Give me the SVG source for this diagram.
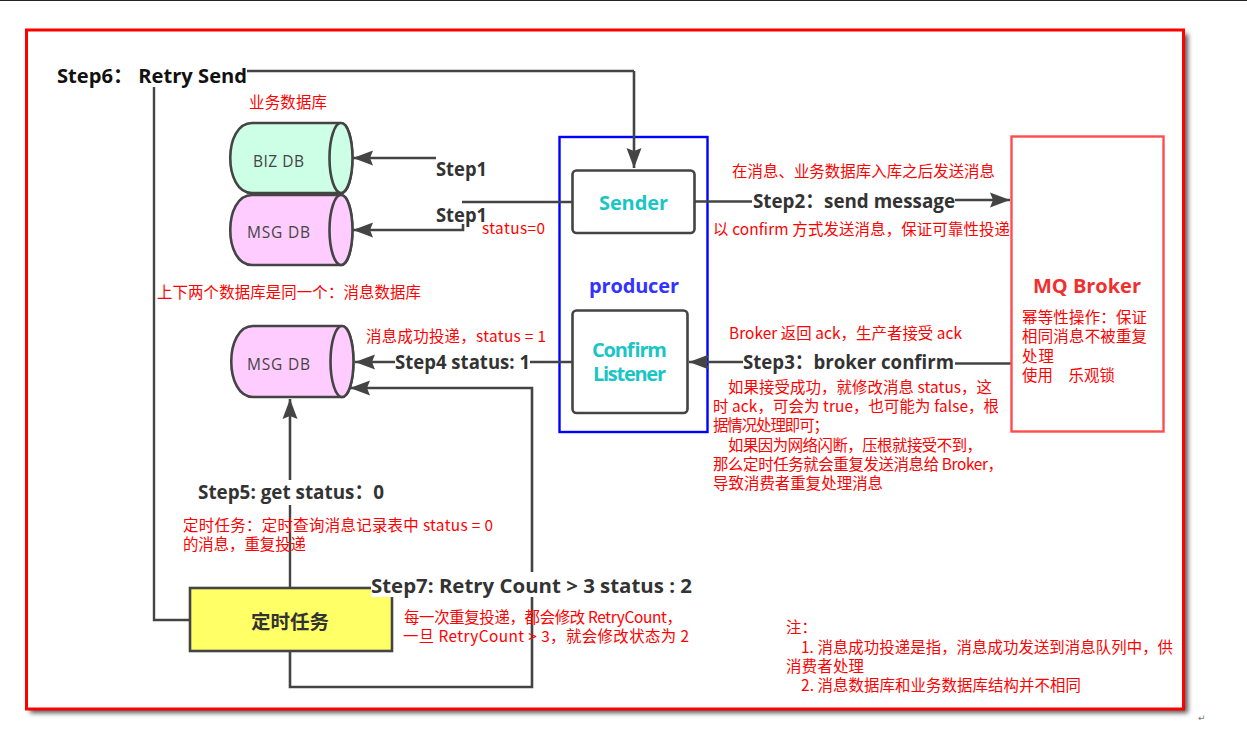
<svg xmlns="http://www.w3.org/2000/svg" width="1247" height="746" viewBox="0 0 1247 746">
<style>
.c{fill:none;stroke:#444;stroke-width:2.4}
.a{fill:none;stroke:#444;stroke-width:2.6;marker-end:url(#ah)}
.n{stroke:#444;stroke-width:2.6}
.r{font:15.4px "Noto Sans CJK SC","Noto Sans",sans-serif;fill:#f00}
.s{font:bold 20px "Open Sans","Noto Sans CJK SC",sans-serif;fill:#333}
.d{font:15.5px "Open Sans","Noto Sans CJK SC",sans-serif;fill:#444}
.t{font:bold 20px "Open Sans","Noto Sans CJK SC",sans-serif;fill:#19c5c5}
</style>
<defs>
<marker id="ah" markerUnits="userSpaceOnUse" markerWidth="24" markerHeight="18" refX="20" refY="8" orient="auto"><path d="M0 0.500L20 8L0 15.500L3 8Z" fill="#444"/></marker>
<filter id="sh" x="-3%" y="-3%" width="106%" height="106%"><feGaussianBlur stdDeviation="2.5"/></filter>
</defs>
<rect width="1247" height="746" fill="#fff"/>
<rect x="0" y="0" width="1247" height="1" fill="#222"/>
<g id="frame">
<rect x="30" y="34" width="1158" height="679" fill="#555" filter="url(#sh)"/>
<rect x="26.500" y="30" width="1157" height="679" fill="#fff" stroke="#f00" stroke-width="3"/>
</g>
<g id="producer-box"><rect x="559.500" y="137" width="148" height="295" fill="none" stroke="#00f" stroke-width="2.4"/>
<text x="589" y="293" font-family="Open Sans" font-weight="700" font-size="20" fill="#3333ff" textLength="90">producer</text></g>
<g id="connectors">
<path class="c" d="M247 71H634"/><path class="a" d="M634 71V168"/>
<path class="c" d="M154 87V620H190"/>
<path class="a" d="M436 158H353"/>
<path class="c" d="M462 202H572"/>
<path class="a" d="M463 224V230H353"/>
<path class="c" d="M695 201.500H752"/>
<path class="a" d="M955 200H1010"/>
<path class="c" d="M1011 363.500H955"/>
<path class="a" d="M743 362H689"/>
<path class="c" d="M572 362H530"/>
<path class="a" d="M395 362H355"/>
<path class="c" d="M290 588V505"/>
<path class="a" d="M290 480V399"/>
<path class="a" d="M290 651V687H532V388H350"/>
</g>
<g id="biz-db"><path class="n" fill="#ccffe6" d="M252 123H341C356 123 356 193 341 193H252C223 193 223 123 252 123Z"/><ellipse class="n" cx="341" cy="158" rx="11.500" ry="35" fill="#ccffe6"/><text class="d" x="253" y="167" textLength="51">BIZ DB</text></g>
<g id="msg-db-1"><path class="n" fill="#ffccff" d="M252 195H341C356 195 356 265 341 265H252C223 265 223 195 252 195Z"/><ellipse class="n" cx="341" cy="230" rx="11.500" ry="35" fill="#ffccff"/><text class="d" x="247" y="238" textLength="63">MSG DB</text></g>
<g id="msg-db-2"><path class="n" fill="#ffccff" d="M253 326H342C357 326 357 397 342 397H253C224 397 224 326 253 326Z"/><ellipse class="n" cx="342" cy="361.500" rx="11.500" ry="35.500" fill="#ffccff"/><text class="d" x="247" y="370" textLength="63">MSG DB</text></g>
<g id="sender"><rect class="n" x="572.500" y="170.500" width="122" height="62.500" rx="4" fill="#fff"/><text class="t" x="599" y="210" textLength="69">Sender</text></g>
<g id="confirm-listener"><rect class="n" x="572.500" y="310.500" width="115" height="102.500" rx="4" fill="#fff"/><text class="t" x="592" y="357" textLength="75">Confirm</text><text class="t" x="593" y="381" textLength="73">Listener</text></g>
<g id="mq-broker"><rect x="1011.500" y="136.500" width="152" height="295" fill="#fff" stroke="#ff4d4d" stroke-width="2.400"/>
<text x="1033" y="293" font-family="Open Sans" font-weight="700" font-size="20" fill="#f03030" textLength="108">MQ Broker</text>
<text class="r" x="1022" y="323" textLength="125">幂等性操作：保证</text><text class="r" x="1022" y="342" textLength="125">相同消息不被重复</text><text class="r" x="1022" y="362" textLength="32">处理</text><text class="r" x="1022" y="381" textLength="93">使用　乐观锁</text></g>
<g id="timer"><rect class="n" x="190" y="588" width="202" height="63" fill="#ffff66"/><text x="251" y="629" font-family="Noto Sans CJK SC" font-weight="700" font-size="19.500" fill="#333" textLength="78">定时任务</text></g>
<g id="labels">
<text class="s" x="57" y="83" style="fill:#111" textLength="190" lengthAdjust="spacingAndGlyphs">Step6： Retry Send</text>
<text class="s" x="436" y="176" textLength="51" lengthAdjust="spacingAndGlyphs">Step1</text>
<text class="s" x="436" y="222" textLength="51" lengthAdjust="spacingAndGlyphs">Step1</text>
<text class="s" x="753" y="208" textLength="202" lengthAdjust="spacingAndGlyphs">Step2：send message</text>
<text class="s" x="743" y="369" textLength="211" lengthAdjust="spacingAndGlyphs">Step3：broker confirm</text>
<text class="s" x="395" y="369" textLength="135" lengthAdjust="spacingAndGlyphs">Step4 status: 1</text>
<text class="s" x="198" y="499" textLength="186" lengthAdjust="spacingAndGlyphs">Step5: get status：0</text>
<rect x="371" y="572" width="321" height="25" fill="#fff"/>
<text class="s" x="371" y="593" textLength="321" lengthAdjust="spacingAndGlyphs">Step7: Retry Count &gt; 3 status : 2</text>
<text class="r" x="249" y="108" textLength="78">业务数据库</text>
<text class="r" x="157" y="298" textLength="264">上下两个数据库是同一个：消息数据库</text>
<text class="r" x="482" y="234" textLength="63">status=0</text>
<text class="r" x="732" y="177" textLength="263">在消息、业务数据库入库之后发送消息</text>
<text class="r" x="713" y="235" textLength="297">以 confirm 方式发送消息，保证可靠性投递</text>
<text class="r" x="729" y="339" textLength="233">Broker 返回 ack，生产者接受 ack</text>
<text class="r" x="728" y="393" textLength="264">如果接受成功，就修改消息 status，这</text>
<text class="r" x="713" y="412" textLength="286">时 ack，可会为 true，也可能为 false，根</text>
<text class="r" x="713" y="431" textLength="116">据情况处理即可；</text>
<text class="r" x="728" y="451" textLength="254">如果因为网络闪断，压根就接受不到，</text>
<text class="r" x="713" y="470" textLength="290">那么定时任务就会重复发送消息给 Broker，</text>
<text class="r" x="713" y="489" textLength="170">导致消费者重复处理消息</text>
<text class="r" x="366" y="342" textLength="180">消息成功投递，status = 1</text>
<text class="r" x="183" y="531" textLength="310">定时任务：定时查询消息记录表中 status = 0</text>
<text class="r" x="183" y="550" textLength="123">的消息，重复投递</text>
<text class="r" x="404" y="623" textLength="278">每一次重复投递，都会修改 RetryCount，</text>
<text class="r" x="403" y="642" textLength="286">一旦 RetryCount &gt; 3，就会修改状态为 2</text>
<text class="r" x="786" y="633">注：</text>
<text class="r" x="801" y="653" textLength="372">1. 消息成功投递是指，消息成功发送到消息队列中，供</text>
<text class="r" x="786" y="672" textLength="78">消费者处理</text>
<text class="r" x="801" y="691" textLength="280">2. 消息数据库和业务数据库结构并不相同</text>
<text x="1198" y="721" font-family="DejaVu Sans" font-size="9" fill="#777">↵</text>
</g>
</svg>
